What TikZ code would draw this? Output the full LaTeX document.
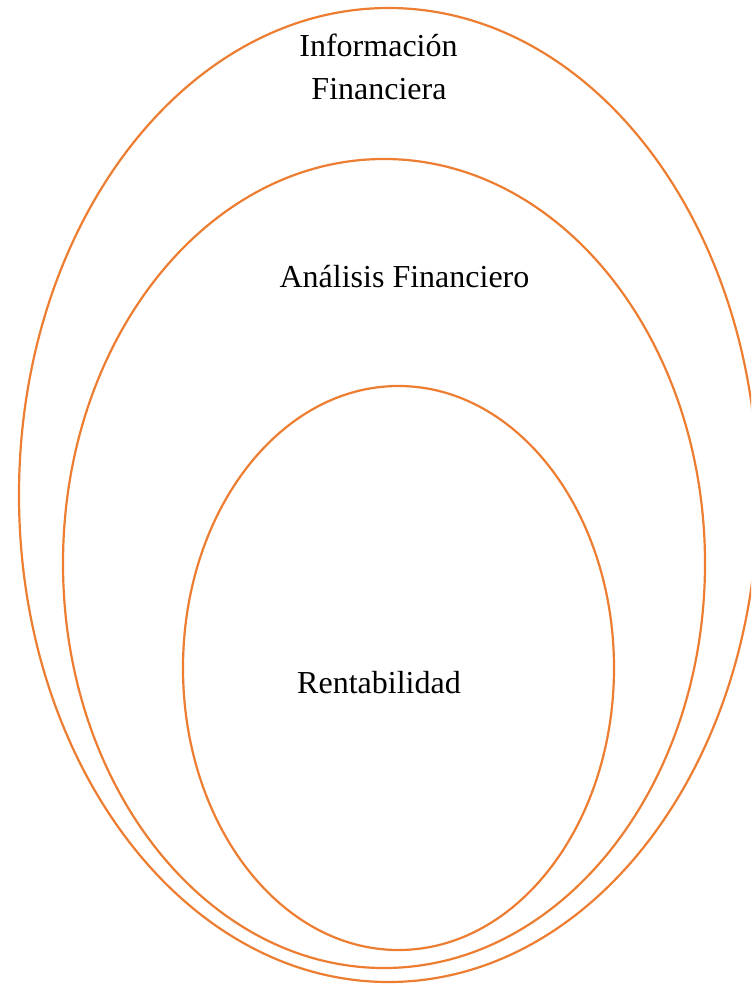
\documentclass[tikz,border=0pt]{standalone}
\usepackage{fontspec}
\setmainfont{Liberation Serif}
\usetikzlibrary{shapes.geometric}
\definecolor{ringorange}{HTML}{ED7D31}
\begin{document}
\begin{tikzpicture}[x=0.5pt,y=-0.5pt,
  ring/.style={draw=ringorange,line width=1.1pt,ellipse,inner sep=0pt},
  label/.style={anchor=base,inner sep=0pt,font=\fontsize{16}{20}\selectfont}]
\useasboundingbox (0,0) rectangle (751,984);
\clip (0,0) rectangle (751,984);
% nested rings
\node[ring,minimum width=369.5pt,minimum height=487pt] (info) at (388.5,495) {};
\node[ring,minimum width=321pt,minimum height=404.5pt] (analisis) at (384,563.5) {};
\node[ring,minimum width=215.5pt,minimum height=282pt] (rent) at (398.5,668) {};
% captions
\node[label] (t1a) at (378.5,57) {Información};
\node[label] (t1b) at (379,100) {Financiera};
\node[label] (t2) at (404.5,287) {Análisis Financiero};
\node[label] (t3) at (379,693) {Rentabilidad};
\end{tikzpicture}
\end{document}
